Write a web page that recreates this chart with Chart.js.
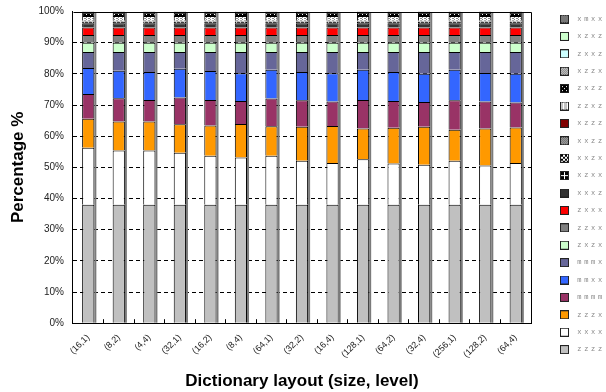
<!DOCTYPE html>
<html><head><meta charset="utf-8">
<script src="https://cdn.jsdelivr.net/npm/chart.js@4.4.1/dist/chart.umd.min.js"></script>
<style>html,body{margin:0;padding:0;background:#fff;overflow:hidden}</style>
</head><body>
<canvas id="c" width="606" height="392" style="width:606px;height:392px;display:block"></canvas>
<script>
// ---------- data ----------
const categories = ['(16,1)','(8,2)','(4,4)','(32,1)','(16,2)','(8,4)','(64,1)','(32,2)','(16,4)','(128,1)','(64,2)','(32,4)','(256,1)','(128,2)','(64,4)'];
const yTickValues = [0,10,20,30,40,50,60,70,80,90,100];
const seriesNames = ['zzzz','xxxx','zzzx','mmmm','mmxx','mmmx','zxzx','zzxx','zxxx','xxxz','xzxx','xxzx','xxzz','xzzz','zzxz','zxzz','xzzx','zxxz','xzxz','xmxx'];
const zzzz = [38,38,38,38,38,38,38,38,38,38,38,38,38,38,38];
const xxxx = [18.3,17.4,17.4,16.7,15.7,15.2,15.7,14.1,13.4,14.6,13.2,12.8,14.1,12.6,13.4];
const zzzx = [9.3,9.3,9.3,9.1,9.7,10.7,9.5,10.9,11.9,9.9,11.5,12.2,10.0,11.9,11.4];
const mmmm = [7.9,7.5,6.9,8.6,8.2,7.4,8.9,8.5,7.8,9.1,8.6,8.0,9.4,8.6,8.0];
const mmxx = [8.4,8.8,9.0,9.2,9.3,8.9,9.2,9.1,9.1,9.7,9.3,9.0,9.8,9.2,9.2];
const mmmx = [5.1,6.0,6.4,5.4,6.1,6.8,5.7,6.4,6.8,5.7,6.4,7.0,5.7,6.7,7.0];
const zxzx = [3.0,3.0,3.0,3.0,3.0,3.0,3.0,3.0,3.0,3.0,3.0,3.0,3.0,3.0,3.0];
const zzxx = [2.5,2.5,2.5,2.5,2.5,2.5,2.5,2.5,2.5,2.5,2.5,2.5,2.5,2.5,2.5];
const zxxx = [2.4,2.4,2.4,2.4,2.4,2.4,2.4,2.4,2.4,2.4,2.4,2.4,2.4,2.4,2.4];
const xxxz = [1.3,1.3,1.3,1.3,1.3,1.3,1.3,1.3,1.3,1.3,1.3,1.3,1.3,1.3,1.3];
const xzxx = [0.5,0.5,0.5,0.5,0.5,0.5,0.5,0.5,0.5,0.5,0.5,0.5,0.5,0.5,0.5];
const xxzx = [0.15,0.15,0.15,0.15,0.15,0.15,0.15,0.15,0.15,0.15,0.15,0.15,0.15,0.15,0.15];
const xxzz = [0.15,0.15,0.15,0.15,0.15,0.15,0.15,0.15,0.15,0.15,0.15,0.15,0.15,0.15,0.15];
const xzzz = [0.05,0.05,0.05,0.05,0.05,0.05,0.05,0.05,0.05,0.05,0.05,0.05,0.05,0.05,0.05];
const zzxz = [1.5,1.5,1.5,1.5,1.5,1.5,1.5,1.5,1.5,1.5,1.5,1.5,1.5,1.5,1.5];
const zxzz = [1.1,1.1,1.1,1.1,1.1,1.1,1.1,1.1,1.1,1.1,1.1,1.1,1.1,1.1,1.1];
const xzzx = [0.1,0.1,0.1,0.1,0.1,0.1,0.1,0.1,0.1,0.1,0.1,0.1,0.1,0.1,0.1];
const zxxz = [0.05,0.05,0.05,0.05,0.05,0.05,0.05,0.05,0.05,0.05,0.05,0.05,0.05,0.05,0.05];
const xzxz = [0.05,0.05,0.05,0.05,0.05,0.05,0.05,0.05,0.05,0.05,0.05,0.05,0.05,0.05,0.05];
const xmxx = [0.15,0.15,0.15,0.15,0.15,0.15,0.15,0.15,0.15,0.15,0.15,0.15,0.15,0.15,0.15];
const seriesValues = [zzzz,xxxx,zzzx,mmmm,mmxx,mmmx,zxzx,zzxx,zxxx,xxxz,xzxx,xxzx,xxzz,xzzz,zzxz,zxzz,xzzx,zxxz,xzxz,xmxx];

// ---------- styles ----------
const canvas = document.getElementById('c');
const mainCtx = canvas.getContext('2d');
function tile(w,h,fn){const c=document.createElement('canvas');c.width=w;c.height=h;const g=c.getContext('2d');fn(g);return c;}
function checker(a,b){return tile(2,2,g=>{g.fillStyle=a;g.fillRect(0,0,2,2);g.fillStyle=b;g.fillRect(0,0,1,1);g.fillRect(1,1,1,1);});}
const tiles = {
  xmxx: checker('#a0a0a0','#505050'),
  xzzx: checker('#d0d0d0','#808080'),
  xxzz: checker('#b0b0b0','#606060'),
  zzxz: tile(4,2,g=>{g.fillStyle='#ffffff';g.fillRect(0,0,4,2);g.fillStyle='#888';g.fillRect(0,0,1,1);g.fillRect(2,1,1,1);g.fillRect(1,0,1,1);}),
  zxzz: tile(4,4,g=>{g.fillStyle='#000';g.fillRect(0,0,4,4);g.fillStyle='#fff';g.fillRect(0,0,1,1);g.fillRect(2,2,1,1);}),
  xxzx: tile(4,4,g=>{g.fillStyle='#fff';g.fillRect(0,0,4,4);g.fillStyle='#000';for(let i=0;i<4;i++){g.fillRect(i,i,1,1);g.fillRect(3-i,i,1,1);}}),
  xzxx: tile(4,4,g=>{g.fillStyle='#000';g.fillRect(0,0,4,4);g.fillStyle='#fff';g.fillRect(0,0,4,1);g.fillRect(0,0,1,4);})
};
const solid = {
  zzzz:'#c0c0c0', xxxx:'#ffffff', zzzx:'#ff9900', mmmm:'#993366', mmxx:'#3366ff', mmmx:'#666699',
  zxzx:'#ccffcc', zzxx:'#808080', zxxx:'#ff0000', xxxz:'#333333', xzzz:'#800000', zxxz:'#ccffff', xzxz:'#ccffcc'
};
function fillFor(name, ctx){ return tiles[name] ? ctx.createPattern(tiles[name],'repeat') : solid[name]; }
function legendMarker(name){
  return tile(14,9,g=>{g.fillStyle=fillFor(name,g);g.fillRect(0,0,9,9);g.strokeStyle='#222';g.lineWidth=1;g.strokeRect(0.5,0.5,8,8);});
}

const datasets = seriesNames.map((n,i)=>({
  label: n,
  data: seriesValues[i],
  backgroundColor: fillFor(n, mainCtx),
  borderColor: '#000',
  borderWidth: 1,
  legendMarker: legendMarker(n)
}));

// ---------- plugins ----------
const LEGEND_W = 75, LEGEND_SHIFT = 18.85, LEGEND_SHIFT_Y = 3.5;
const legendTweak = {
  id: 'legendTweak',
  beforeLayout(chart){
    const lg = chart.legend;
    if (!lg || lg._tweaked) return;
    lg._tweaked = true;
    const f = lg.fit;
    lg.fit = function(){ f.call(this); this.width = LEGEND_W; };
    const d = lg.draw;
    lg.draw = function(){
      const ctx = this.ctx;
      this.left += LEGEND_SHIFT; this.top += LEGEND_SHIFT_Y; this.bottom += LEGEND_SHIFT_Y;
      ctx.save();
      ctx.letterSpacing = '2.7px';
      d.apply(this, arguments);
      ctx.restore();
      this.left -= LEGEND_SHIFT; this.top -= LEGEND_SHIFT_Y; this.bottom -= LEGEND_SHIFT_Y;
    };
  }
};
const frameAndShadow = {
  id: 'frameAndShadow',
  beforeDatasetsDraw(chart){
    const {ctx, chartArea:a} = chart;
    const first = chart.getDatasetMeta(0);
    const last = chart.getDatasetMeta(chart.data.datasets.length-1);
    ctx.save();
    ctx.fillStyle = '#7a7a7a';
    first.data.forEach((el,i)=>{
      const p = el.getProps(['x','width','base'], true);
      const top = last.data[i].getProps(['y'], true).y;
      ctx.fillRect(p.x + p.width/2, top + 1, 2, p.base - top - 1);
    });
    ctx.strokeStyle = '#000';
    ctx.lineWidth = 1;
    ctx.beginPath();
    ctx.moveTo(Math.round(a.left)+0.5, Math.round(a.top)+0.5);
    ctx.lineTo(Math.round(a.right)+0.5, Math.round(a.top)+0.5);
    ctx.lineTo(Math.round(a.right)+0.5, Math.round(a.bottom)+0.5);
    ctx.stroke();
    ctx.restore();
  }
};

Chart.defaults.font.family = '"Liberation Sans", Arial, sans-serif';
Chart.defaults.color = '#222';

new Chart(canvas, {
  type: 'bar',
  data: { labels: categories, datasets },
  options: {
    responsive: false,
    animation: false,
    devicePixelRatio: 1,
    layout: { padding: { top: 1.6, left: 4, right: 0, bottom: 0.8 } },
    datasets: { bar: { barPercentage: 0.4, categoryPercentage: 1.0 } },
    plugins: {
      tooltip: { enabled: false },
      legend: {
        position: 'right',
        align: 'start',
        reverse: true,
        labels: {
          usePointStyle: true,
          pointStyleWidth: 13.5,
          padding: 10.4,
          color: '#888',
          font: { size: 7, family: '"Liberation Mono", "DejaVu Sans Mono", monospace' },
          generateLabels(chart){
            return chart.data.datasets.map((ds,i)=>({
              text: ds.label,
              fillStyle: '#fff',
              strokeStyle: '#222',
              lineWidth: 1,
              pointStyle: ds.legendMarker,
              hidden: false,
              datasetIndex: i,
              fontColor: '#888'
            }));
          }
        }
      }
    },
    scales: {
      x: {
        stacked: true,
        grid: { display: true, drawOnChartArea: false, drawTicks: true, tickLength: -4, color: '#000', offset: true },
        border: { display: true, color: '#000', width: 1 },
        ticks: { autoSkip: false, maxRotation: 45, minRotation: 45, padding: 13, font: { size: 9 }, color: '#222' },
        title: { display: true, text: 'Dictionary layout (size, level)', color: '#000', font: { size: 17, weight: 'bold' }, padding: { top: -2.2, bottom: 0 } }
      },
      y: {
        stacked: true,
        min: 0, max: 100,
        afterBuildTicks(scale){ scale.ticks = yTickValues.map(v=>({value:v})); },
        grid: {
          drawTicks: false,
          color: ctx => (ctx.tick && (ctx.tick.value === 0 || ctx.tick.value === 100)) ? 'rgba(0,0,0,0)' : '#000',
          lineWidth: 1
        },
        border: { display: true, color: '#000', width: 1, dash: [4,3] },
        ticks: { padding: 9, font: { size: 10, lineHeight: 0.5 }, color: '#222', callback: v => v + '%' },
        title: { display: true, text: 'Percentage %', color: '#000', font: { size: 17, weight: 'bold' }, padding: { top: 3.8, bottom: 1.2 } }
      }
    }
  },
  plugins: [legendTweak, frameAndShadow]
});
</script>
</body></html>
